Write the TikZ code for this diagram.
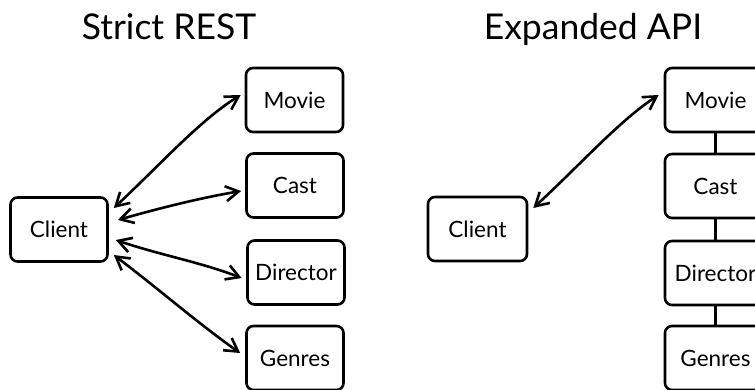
\documentclass[tikz,border=0pt]{standalone}
\usepackage{fontspec}
\setmainfont{Lato}
\usetikzlibrary{arrows.meta,calc}
\tikzset{
  ent/.style={draw=black, line width=2.6pt, rounded corners=7pt, minimum width=97pt, minimum height=64pt, inner sep=0pt, font=\fontsize{22.5}{26}\selectfont, text height=16pt, text depth=0pt},
  ttl/.style={font=\fontsize{35.5}{40}\selectfont, anchor=base},
  barb/.style={Straight Barb[angle=60:15pt, line width=2.6pt]},
  dbl/.style={line width=2.6pt, line cap=round, {Straight Barb[angle=60:15pt, line width=2.6pt]}-{Straight Barb[angle=60:15pt, line width=2.6pt]}},
  link/.style={line width=2.6pt}
}
\begin{document}
\begin{tikzpicture}[x=1pt, y=-1pt]
\useasboundingbox (0,0) rectangle (755,389);
\clip (0,0) rectangle (755,389);
% titles
\node[ttl] (t1) at (169,39) {Strict REST};
\node[ttl] (t2) at (593,39) {Expanded API};
% left panel
\node[ent] (c1) at (59,229.5) {Client};
\node[ent] (m1) at (294.5,100) {Movie};
\node[ent] (ca1) at (295,185.5) {Cast};
\node[ent] (d1) at (296,272.5) {Director};
\node[ent] (g1) at (295,358) {Genres};
\draw[dbl] ($(c1.east)+(5,-21.5)$) .. controls (160,165) and (200,120) .. ($(m1.west)+(-4,-5)$);
\draw[dbl] ($(c1.east)+(9,-9.5)$) .. controls (160,208) and (200,198) .. ($(ca1.west)+(-4,5.5)$);
\draw[dbl] ($(c1.east)+(7,10.5)$) .. controls (160,255) and (200,262) .. ($(d1.west)+(-4.5,5.5)$);
\draw[dbl] ($(c1.east)+(5,25.5)$) .. controls (160,290) and (200,325) .. ($(g1.west)+(-5,-5)$);
% right panel
\node[ent, minimum width=99pt] (c2) at (477.5,229) {Client};
\node[ent, minimum width=101pt] (m2) at (715.5,100) {Movie};
\node[ent, minimum width=101pt] (ca2) at (715.5,186) {Cast};
\node[ent, minimum width=101pt] (d2) at (715.5,273) {Director};
\node[ent, minimum width=101pt] (g2) at (715.5,358) {Genres};
\draw[dbl] ($(c2.east)+(5,-21)$) .. controls (580,165) and (620,120) .. ($(m2.west)+(-5,-5)$);
\draw[link] (m2.south) -- (ca2.north);
\draw[link] (ca2.south) -- (d2.north);
\draw[link] (d2.south) -- (g2.north);
\end{tikzpicture}
\end{document}
